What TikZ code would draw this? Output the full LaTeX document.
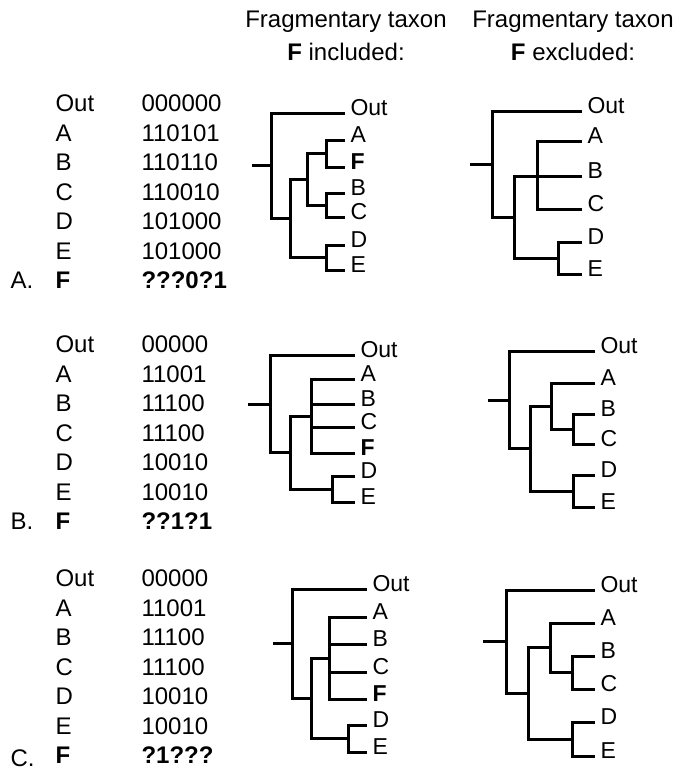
\documentclass[tikz,border=0pt]{standalone}
\usepackage{fontspec}
\setmainfont{Liberation Sans}
\begin{document}
\begin{tikzpicture}[x=1pt,y=-1pt,line width=3pt,
  txt/.style={font=\fontsize{24}{28}\selectfont,anchor=base west,inner sep=0pt},
  hdr/.style={font=\fontsize{24}{28}\selectfont,anchor=base,inner sep=0pt},
  lf/.style={font=\fontsize{23}{26}\selectfont,anchor=base west,inner sep=0pt,xshift=4pt,yshift=-2pt}]
\useasboundingbox (0,0) rectangle (680,776);

% headers
\node[hdr] (h1a) at (346,28) {Fragmentary taxon};
\node[hdr] (h1b) at (346,61) {\textbf{F} included:};
\node[hdr] (h2a) at (573,28) {Fragmentary taxon};
\node[hdr] (h2b) at (573,61) {\textbf{F} excluded:};

% data columns
\foreach \t/\v [count=\i from 0] in {Out/000000,A/110101,B/110110,C/110010,D/101000,E/101000,\textbf{F}/\textbf{???0?1}}{
  \node[txt] (ta\i) at (54,{111.5+29.5*\i}) {\t};
  \node[txt] (va\i) at (140,{111.5+29.5*\i}) {\v};
}
\node[txt] (la) at (9,288.5) {A.};
\foreach \t/\v [count=\i from 0] in {Out/00000,A/11001,B/11100,C/11100,D/10010,E/10010,\textbf{F}/\textbf{??1?1}}{
  \node[txt] (tb\i) at (54,{352.5+29.5*\i}) {\t};
  \node[txt] (vb\i) at (140,{352.5+29.5*\i}) {\v};
}
\node[txt] (lb) at (9,529.5) {B.};
\foreach \t/\v [count=\i from 0] in {Out/00000,A/11001,B/11100,C/11100,D/10010,E/10010,\textbf{F}/\textbf{?1???}}{
  \node[txt] (tc\i) at (54,{586.5+29.5*\i}) {\t};
  \node[txt] (vc\i) at (140,{586.5+29.5*\i}) {\v};
}
\node[txt] (lc) at (9,766) {C.};

% ---------- Tree A included ----------
\coordinate (ia-out) at (345,113);
\coordinate (ia-a) at (345,140);
\coordinate (ia-f) at (345,167);
\coordinate (ia-b) at (345,193);
\coordinate (ia-c) at (345,217);
\coordinate (ia-d) at (345,245);
\coordinate (ia-e) at (345,270);
\coordinate (ia-af) at (326,153.5);
\coordinate (ia-bc) at (326,205);
\coordinate (ia-de) at (326,257.5);
\coordinate (ia-n2) at (307,179);
\coordinate (ia-n1) at (290,218);
\coordinate (ia-r) at (271,165.5);
\coordinate (ia-s) at (252,165.5);
\draw (ia-a) -| (ia-af) |- (ia-f);
\draw (ia-b) -| (ia-bc) |- (ia-c);
\draw (ia-d) -| (ia-de) |- (ia-e);
\draw (ia-af) -| (ia-n2) |- (ia-bc);
\draw (ia-n2) -| (ia-n1) |- (ia-de);
\draw (ia-out) -| (ia-r) |- (ia-n1);
\draw (ia-s) -- (ia-r);
\node[lf] (ia-tout) at (ia-out) {Out};
\node[lf] (ia-ta) at (ia-a) {A};
\node[lf] (ia-tf) at (ia-f) {\textbf{F}};
\node[lf] (ia-tb) at (ia-b) {B};
\node[lf] (ia-tc) at (ia-c) {C};
\node[lf] (ia-td) at (ia-d) {D};
\node[lf] (ia-te) at (ia-e) {E};

% ---------- Tree A excluded ----------
\coordinate (ea-out) at (582,111);
\coordinate (ea-a) at (582,141);
\coordinate (ea-b) at (582,176);
\coordinate (ea-c) at (582,209);
\coordinate (ea-d) at (582,242);
\coordinate (ea-e) at (582,274);
\coordinate (ea-n2) at (537,176);
\coordinate (ea-de) at (558,258);
\coordinate (ea-n1) at (514,217);
\coordinate (ea-r) at (492,164);
\coordinate (ea-s) at (470,164);
\draw (ea-a) -| (ea-n2) |- (ea-c);
\draw (ea-n2) -- (ea-b);
\draw (ea-d) -| (ea-de) |- (ea-e);
\draw (ea-n2) -| (ea-n1) |- (ea-de);
\draw (ea-out) -| (ea-r) |- (ea-n1);
\draw (ea-s) -- (ea-r);
\node[lf] (ea-tout) at (ea-out) {Out};
\node[lf] (ea-ta) at (ea-a) {A};
\node[lf] (ea-tb) at (ea-b) {B};
\node[lf] (ea-tc) at (ea-c) {C};
\node[lf] (ea-td) at (ea-d) {D};
\node[lf] (ea-te) at (ea-e) {E};

% ---------- Tree B included ----------
\coordinate (ib-out) at (355,355);
\coordinate (ib-a) at (355,379);
\coordinate (ib-b) at (355,404);
\coordinate (ib-c) at (355,427);
\coordinate (ib-f) at (355,453);
\coordinate (ib-d) at (355,476);
\coordinate (ib-e) at (355,502);
\coordinate (ib-n2) at (311,416);
\coordinate (ib-de) at (332,489);
\coordinate (ib-n1) at (290,452.5);
\coordinate (ib-r) at (270,404);
\coordinate (ib-s) at (248,404);
\draw (ib-a) -| (ib-n2) |- (ib-f);
\draw (ib-b) -- (ib-b -| ib-n2);
\draw (ib-c) -- (ib-c -| ib-n2);
\draw (ib-d) -| (ib-de) |- (ib-e);
\draw (ib-n2) -| (ib-n1) |- (ib-de);
\draw (ib-out) -| (ib-r) |- (ib-n1);
\draw (ib-s) -- (ib-r);
\node[lf] (ib-tout) at (ib-out) {Out};
\node[lf] (ib-ta) at (ib-a) {A};
\node[lf] (ib-tb) at (ib-b) {B};
\node[lf] (ib-tc) at (ib-c) {C};
\node[lf] (ib-tf) at (ib-f) {\textbf{F}};
\node[lf] (ib-td) at (ib-d) {D};
\node[lf] (ib-te) at (ib-e) {E};

% ---------- Tree B excluded ----------
\coordinate (eb-out) at (595,351);
\coordinate (eb-a) at (595,383);
\coordinate (eb-b) at (595,414);
\coordinate (eb-c) at (595,444);
\coordinate (eb-d) at (595,475);
\coordinate (eb-e) at (595,507);
\coordinate (eb-bc) at (573,429);
\coordinate (eb-n2) at (551,406);
\coordinate (eb-de) at (573,491);
\coordinate (eb-n1) at (530,448.5);
\coordinate (eb-r) at (509,400);
\coordinate (eb-s) at (488,400);
\draw (eb-b) -| (eb-bc) |- (eb-c);
\draw (eb-a) -| (eb-n2) |- (eb-bc);
\draw (eb-d) -| (eb-de) |- (eb-e);
\draw (eb-n2) -| (eb-n1) |- (eb-de);
\draw (eb-out) -| (eb-r) |- (eb-n1);
\draw (eb-s) -- (eb-r);
\node[lf] (eb-tout) at (eb-out) {Out};
\node[lf] (eb-ta) at (eb-a) {A};
\node[lf] (eb-tb) at (eb-b) {B};
\node[lf] (eb-tc) at (eb-c) {C};
\node[lf] (eb-td) at (eb-d) {D};
\node[lf] (eb-te) at (eb-e) {E};

% ---------- Tree C included ----------
\coordinate (ic-out) at (367,589);
\coordinate (ic-a) at (367,617);
\coordinate (ic-b) at (367,644);
\coordinate (ic-c) at (367,672);
\coordinate (ic-f) at (367,699);
\coordinate (ic-d) at (367,725);
\coordinate (ic-e) at (367,752);
\coordinate (ic-n2) at (329,658);
\coordinate (ic-de) at (348,738.5);
\coordinate (ic-n1) at (311,698);
\coordinate (ic-r) at (292,643.5);
\coordinate (ic-s) at (273,643.5);
\draw (ic-a) -| (ic-n2) |- (ic-f);
\draw (ic-b) -- (ic-b -| ic-n2);
\draw (ic-c) -- (ic-c -| ic-n2);
\draw (ic-d) -| (ic-de) |- (ic-e);
\draw (ic-n2) -| (ic-n1) |- (ic-de);
\draw (ic-out) -| (ic-r) |- (ic-n1);
\draw (ic-s) -- (ic-r);
\node[lf] (ic-tout) at (ic-out) {Out};
\node[lf] (ic-ta) at (ic-a) {A};
\node[lf] (ic-tb) at (ic-b) {B};
\node[lf] (ic-tc) at (ic-c) {C};
\node[lf] (ic-tf) at (ic-f) {\textbf{F}};
\node[lf] (ic-td) at (ic-d) {D};
\node[lf] (ic-te) at (ic-e) {E};

% ---------- Tree C excluded ----------
\coordinate (ec-out) at (595,590);
\coordinate (ec-a) at (595,623);
\coordinate (ec-b) at (595,656);
\coordinate (ec-c) at (595,689);
\coordinate (ec-d) at (595,722);
\coordinate (ec-e) at (595,756);
\coordinate (ec-bc) at (572,672.5);
\coordinate (ec-n2) at (550,647.75);
\coordinate (ec-de) at (572,739);
\coordinate (ec-n1) at (528,693.4);
\coordinate (ec-r) at (506,641.7);
\coordinate (ec-s) at (483,641.7);
\draw (ec-b) -| (ec-bc) |- (ec-c);
\draw (ec-a) -| (ec-n2) |- (ec-bc);
\draw (ec-d) -| (ec-de) |- (ec-e);
\draw (ec-n2) -| (ec-n1) |- (ec-de);
\draw (ec-out) -| (ec-r) |- (ec-n1);
\draw (ec-s) -- (ec-r);
\node[lf] (ec-tout) at (ec-out) {Out};
\node[lf] (ec-ta) at (ec-a) {A};
\node[lf] (ec-tb) at (ec-b) {B};
\node[lf] (ec-tc) at (ec-c) {C};
\node[lf] (ec-td) at (ec-d) {D};
\node[lf] (ec-te) at (ec-e) {E};
\end{tikzpicture}
\end{document}
